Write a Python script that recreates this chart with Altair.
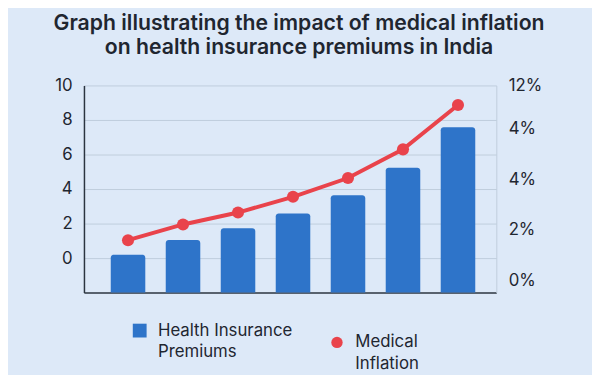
import altair as alt
import pandas as pd

# ---- data ----
years = ["Y1", "Y2", "Y3", "Y4", "Y5", "Y6", "Y7"]
premiums = [0.19, 1.05, 1.73, 2.59, 3.64, 5.24, 7.58]
inflation = [1.60, 2.22, 2.69, 3.31, 4.05, 5.18, 6.93]
left_ticks = [0, 2, 4, 6, 8, 10]
right_tick_values = [0, 2, 4, 6, 7.7]
right_tick_labels = ["0%", "2%", "4%", "4%", "12%"]
series_names = ["Health Insurance Premiums", "Medical Inflation"]
legend_lines = [["Health Insurance", "Premiums"], ["Medical", "Inflation"]]
title_lines = ["Graph illustrating the impact of medical inflation",
               "on health insurance premiums in India"]

BG = "#dde9f8"
BLUE = "#2e74c9"
RED = "#e9434b"
GRID = "#bfcddc"
DARK = "#2b3440"
TEXT = "#1f2630"
FONT = "Inter"

df = pd.DataFrame({
    "year": years,
    "premium": premiums,
    "inflation": inflation,
    "s1": series_names[0],
    "s2": series_names[1],
})

# label expressions built from the lists
right_expr = ""
for v, lab in zip(right_tick_values, right_tick_labels):
    right_expr += f"datum.value == {v} ? '{lab}' : "
right_expr += "''"


def legend_expr(name, lines):
    arr = "[" + ", ".join(f"'{l}'" for l in lines) + "]"
    return f"datum.label == '{name}' ? {arr} : datum.label"


base = alt.Chart(df).encode(
    x=alt.X(
        "year:N", sort=None,
        scale=alt.Scale(paddingInner=0.372, paddingOuter=0.435, align=0.56),
        axis=alt.Axis(labels=False, ticks=False, title=None,
                      domainColor=DARK, domainWidth=1.5),
    )
)

bars = base.mark_bar(cornerRadiusTopLeft=3, cornerRadiusTopRight=3).encode(
    y=alt.Y(
        "premium:Q",
        scale=alt.Scale(domain=[-2, 10], nice=False, zero=False),
        axis=alt.Axis(values=left_ticks, title=None, grid=True, gridColor=GRID,
                      gridWidth=1, ticks=False, domainColor=DARK, domainWidth=1.5,
                      labelPadding=12, labelFontSize=17, labelColor=TEXT),
    ),
    y2=alt.datum(-2),
    color=alt.Color(
        "s1:N",
        scale=alt.Scale(domain=[series_names[0]], range=[BLUE]),
        legend=alt.Legend(orient="none", legendX=48, legendY=240, title=None,
                          symbolType="square", symbolSize=196, symbolStrokeWidth=0,
                          labelFontSize=17, labelColor=TEXT, labelOffset=10,
                          labelLimit=400, padding=0,
                          labelExpr=legend_expr(series_names[0], legend_lines[0])),
    ),
)

yr = alt.Y(
    "inflation:Q",
    scale=alt.Scale(domain=[-0.467, 7.7], nice=False, zero=False),
    axis=alt.Axis(orient="right", values=right_tick_values, labelExpr=right_expr,
                  grid=False, ticks=False, domainColor=GRID, domainWidth=1,
                  labelPadding=12, labelFontSize=17, labelColor=TEXT, title=None),
)

line = base.mark_line(color=RED, strokeWidth=4).encode(y=yr)
points = base.mark_circle(size=150, opacity=1).encode(
    y=yr,
    color=alt.Color(
        "s2:N",
        scale=alt.Scale(domain=[series_names[1]], range=[RED]),
        legend=alt.Legend(orient="none", legendX=248, legendY=252, title=None,
                          symbolType="circle", symbolSize=133, symbolStrokeWidth=0,
                          labelFontSize=17, labelColor=TEXT, labelOffset=10,
                          labelLimit=400, padding=0,
                          labelExpr=legend_expr(series_names[1], legend_lines[1])),
    ),
)

chart = alt.layer(bars, alt.layer(line, points)).resolve_scale(
    y="independent", color="independent"
).properties(
    width=418,
    height=210,
    autosize=alt.AutoSizeParams(type="none"),
    padding={"left": 77, "top": 76, "right": 97, "bottom": 81},
    background=BG,
    title=alt.TitleParams(text=title_lines, fontSize=21.5, fontWeight=600, font=FONT,
                          color=TEXT, anchor="middle", lineHeight=25, offset=18, dx=9),
).configure(
    font=FONT, style={"guide-label": {"lineHeight": 22}}
).configure_view(stroke="transparent")

chart.save("out.html", embed_options={"renderer": "svg", "actions": False})
